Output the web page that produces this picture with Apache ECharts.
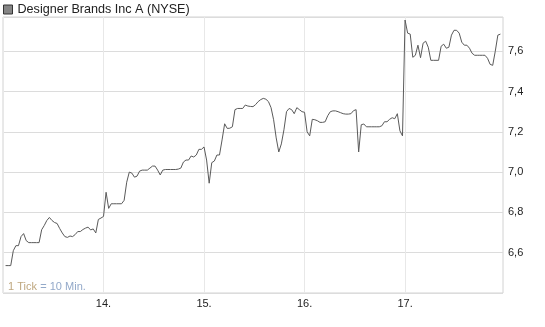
<!DOCTYPE html>
<html>
<head>
<meta charset="utf-8">
<style>
html,body{margin:0;padding:0;background:#fff;}
#chart{width:545px;height:327px;}
</style>
<script src="https://cdn.jsdelivr.net/npm/echarts@6/dist/echarts.min.js"></script>
</head>
<body>
<div id="chart"></div>
<script>
// 10-minute ticks; day 13 starts at tick 1, each day boundary every 39 ticks
const seriesName = 'Designer Brands Inc A (NYSE)';
const dayLabels = ['14.', '15.', '16.', '17.'];
const ticksPerDay = 39;
const firstTick = 1;
const day13 = [6.536, 6.536, 6.536, 6.61, 6.635, 6.635, 6.68, 6.695, 6.66, 6.65, 6.65, 6.65, 6.65, 6.65, 6.714, 6.735, 6.76, 6.775, 6.76, 6.75, 6.745, 6.72, 6.698, 6.68, 6.676, 6.683, 6.68, 6.69, 6.705, 6.705, 6.715, 6.722, 6.727, 6.713, 6.718, 6.698, 6.765, 6.772];
const day14 = [6.78, 6.90, 6.82, 6.843, 6.843, 6.843, 6.843, 6.843, 6.86, 6.95, 7.0, 6.995, 6.975, 6.98, 7.005, 7.01, 7.01, 7.01, 7.02, 7.03, 7.03, 7.01, 6.986, 7.01, 7.013, 7.013, 7.013, 7.013, 7.013, 7.015, 7.02, 7.05, 7.06, 7.06, 7.08, 7.075, 7.085, 7.113, 7.113];
const day15 = [7.125, 7.06, 6.945, 7.047, 7.055, 7.085, 7.085, 7.16, 7.24, 7.217, 7.218, 7.225, 7.31, 7.316, 7.316, 7.316, 7.333, 7.328, 7.326, 7.325, 7.335, 7.35, 7.36, 7.366, 7.362, 7.35, 7.32, 7.26, 7.17, 7.10, 7.14, 7.21, 7.30, 7.316, 7.31, 7.29, 7.32, 7.31, 7.30];
const day16 = [7.297, 7.20, 7.18, 7.262, 7.26, 7.255, 7.247, 7.247, 7.25, 7.28, 7.30, 7.304, 7.304, 7.30, 7.295, 7.29, 7.288, 7.288, 7.29, 7.305, 7.31, 7.10, 7.235, 7.239, 7.225, 7.225, 7.225, 7.225, 7.225, 7.225, 7.23, 7.25, 7.25, 7.262, 7.27, 7.265, 7.29, 7.205, 7.18];
const day17 = [7.755, 7.69, 7.685, 7.57, 7.58, 7.63, 7.568, 7.64, 7.65, 7.62, 7.555, 7.555, 7.555, 7.555, 7.625, 7.635, 7.615, 7.62, 7.68, 7.704, 7.704, 7.69, 7.645, 7.63, 7.63, 7.615, 7.59, 7.58, 7.58, 7.58, 7.58, 7.58, 7.565, 7.535, 7.53, 7.60, 7.68, 7.685];
const yMin = 6.4, yMax = 7.77, yStep = 0.2;
const xMax = 194;

const prices = [].concat(day13, day14, day15, day16, day17);
const data = prices.map((v, k) => [firstTick + k, v]);

const FONT = '"Liberation Sans", Arial, sans-serif';
const chart = echarts.init(document.getElementById('chart'), null, {renderer: 'canvas'});
chart.setOption({
  animation: false,
  backgroundColor: '#fff',
  legend: {
    show: true,
    left: 3, top: 3, padding: 0,
    icon: 'rect', itemWidth: 9, itemHeight: 9,
    itemStyle: {color: '#858585', borderColor: '#333', borderWidth: 1},
    textStyle: {fontFamily: FONT, fontSize: 12.6, color: '#222'},
    data: [seriesName]
  },
  grid: {
    left: 3, right: 42, top: 17, bottom: 34,
    show: true, borderColor: '#d3d3d3', borderWidth: 1
  },
  xAxis: {
    type: 'value', min: 0, max: xMax, interval: ticksPerDay,
    axisLine: {show: false}, axisTick: {show: false},
    splitLine: {show: true, lineStyle: {color: '#e8e8e8', width: 1}},
    axisLabel: {
      fontFamily: FONT, fontSize: 11, color: '#222', margin: 5,
      formatter: function (v) {
        const d = v / ticksPerDay - 1;
        return (Number.isInteger(d) && d >= 0 && d < dayLabels.length) ? dayLabels[d] : '';
      }
    }
  },
  yAxis: {
    type: 'value', position: 'right', min: yMin, max: yMax, interval: yStep,
    axisLine: {show: false}, axisTick: {show: false},
    splitLine: {show: true, lineStyle: {color: '#dcdcdc', width: 1}},
    axisLabel: {
      fontFamily: FONT, fontSize: 11, color: '#222', margin: 5,
      formatter: function (v) {
        const k = Math.round((v - yMin) / yStep);
        if (Math.abs(yMin + k * yStep - v) > 1e-6 || k === 0) return '';
        return v.toFixed(1).replace('.', ',');
      }
    }
  },
  graphic: [{
    type: 'text', left: 8, top: 281,
    style: {
      text: '{a|1 Tick} {b|= 10 Min.}',
      rich: {
        a: {fontFamily: FONT, fontSize: 11, fill: '#bfa77f'},
        b: {fontFamily: FONT, fontSize: 11, fill: '#93a9c9'}
      }
    }
  }],
  series: [{
    name: seriesName,
    type: 'line',
    data: data,
    showSymbol: false,
    symbol: 'none',
    color: '#5a5a5a',
    lineStyle: {color: '#5a5a5a', width: 1},
    silent: true
  }]
});
</script>
</body>
</html>
